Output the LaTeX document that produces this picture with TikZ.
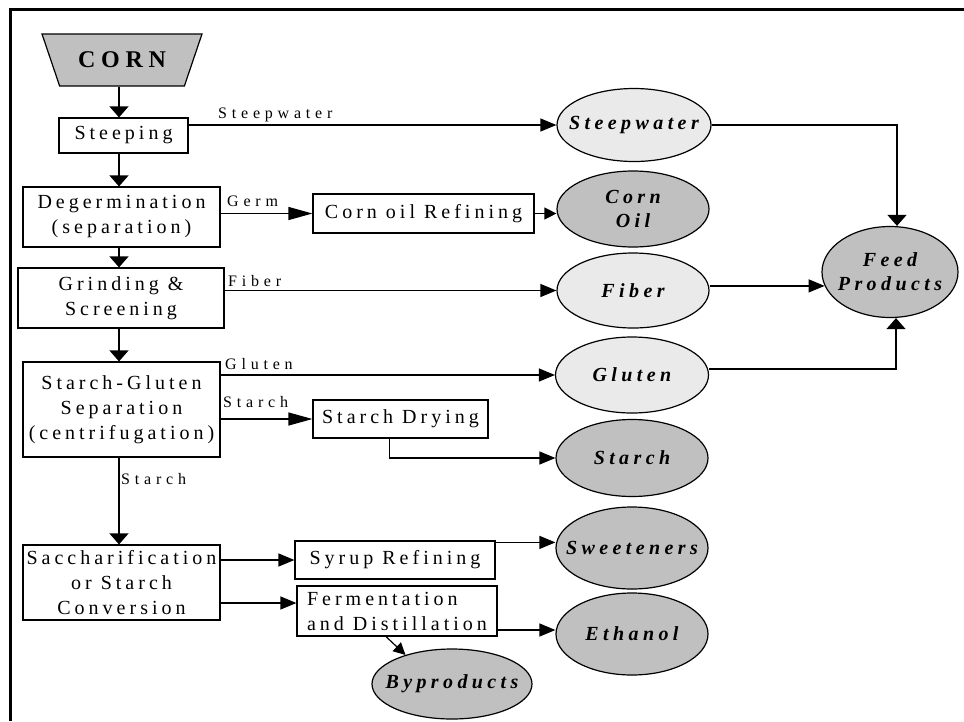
\documentclass[tikz,border=0pt]{standalone}
\usepackage{fontspec}
\setmainfont{Liberation Serif}
\newfontfamily\bxfont[LetterSpace=20]{Liberation Serif}
\newfontfamily\lbfont[LetterSpace=30]{Liberation Serif}
\newfontfamily\elfont[LetterSpace=22]{Liberation Serif}
\newfontfamily\cornfont[LetterSpace=24]{Liberation Serif}
\usetikzlibrary{arrows.meta,shapes.geometric}
\definecolor{darkg}{RGB}{192,192,192}
\definecolor{lightg}{RGB}{234,234,234}
\begin{document}
\begin{tikzpicture}[x=1pt,y=-1pt,
  box/.style={draw, line width=1.2pt, inner sep=0pt, align=center,
    font=\bxfont\fontsize{20}{25}\selectfont},
  ell/.style={ellipse, draw, line width=1.2pt, inner sep=0pt},
  eltext/.style={align=center, inner sep=0pt,
    font=\elfont\bfseries\itshape\fontsize{20}{24}\selectfont},
  lbl/.style={anchor=base west, inner sep=0pt, font=\lbfont\fontsize{16}{18}\selectfont},
  conn/.style={line width=1.2pt},
  arr/.style={conn, -{Triangle[length=16pt,width=13pt]}},
  larr/.style={conn, -{Triangle[length=24pt,width=13pt]}},
  sarr/.style={conn, -{Triangle[length=12pt,width=12pt]}},
  varr/.style={conn, -{Triangle[length=11pt,width=19pt]}}
]
\useasboundingbox (0,0) rectangle (964,721);
\draw[line width=3.5pt] (964,9.5) -- (10.5,9.5) -- (10.5,721);

\coordinate (spine) at (119,0);

% CORN
\node[trapezium, trapezium left angle=52.4, trapezium right angle=52.4,
  shape border rotate=180, trapezium stretches=true,
  minimum width=160pt, minimum height=52pt, fill=darkg, draw, line width=1.2pt,
  inner sep=0pt, font=\cornfont\bfseries\fontsize{24}{24}\selectfont] (corn) at (122,60) {CORN};

% process boxes
\node[box, minimum width=129pt, minimum height=35pt] (steep) at (123.5,135.5) {Steeping};
\node[box, minimum width=197pt, minimum height=60pt] (degerm) at (121.5,217) {Degermination\\(separation)};
\node[box, minimum width=206pt, minimum height=60pt] (grind) at (121,298) {Grinding \&\\Screening};
\node[box, minimum width=197pt, minimum height=95pt] (sg) at (121.5,409.5) {Starch-Gluten\\Separation\\(centrifugation)};
\node[box, minimum width=197pt, minimum height=75pt] (sacch) at (121.5,582.5) {Saccharification\\or Starch\\Conversion};
\node[box, minimum width=221pt, minimum height=39pt] (oilref) at (423.5,213.5) {Corn oil Refining};
\node[box, minimum width=175pt, minimum height=38pt] (sdry) at (400.5,419) {Starch Drying};
\node[box, minimum width=200pt, minimum height=38pt] (syrup) at (395,560) {Syrup Refining};
\node[box, minimum width=200pt, minimum height=50pt, align=left] (ferm) at (397,611) {Fermentation\\and Distillation};

% product ellipses
\node[ell, fill=lightg, minimum width=154pt, minimum height=73pt, label={[eltext]center:Steepwater}] (esteep) at (634,125) {};
\node[ell, fill=darkg, minimum width=152pt, minimum height=76pt, label={[eltext]center:{Corn\\Oil}}] (eoil) at (633,209) {};
\node[ell, fill=lightg, minimum width=152pt, minimum height=75pt, label={[eltext]center:Fiber}] (efiber) at (633,290.5) {};
\node[ell, fill=lightg, minimum width=153pt, minimum height=76pt, label={[eltext]center:Gluten}] (egluten) at (632,375) {};
\node[ell, fill=darkg, minimum width=152pt, minimum height=77pt, label={[eltext]center:Starch}] (estarch) at (632,458) {};
\node[ell, fill=darkg, minimum width=152pt, minimum height=82pt, label={[eltext]center:Sweeteners}] (esweet) at (632,548) {};
\node[ell, fill=darkg, minimum width=152pt, minimum height=82pt, label={[eltext]center:Ethanol}] (eeth) at (632,634) {};
\node[ell, fill=darkg, minimum width=160pt, minimum height=70pt, label={[eltext]center:Byproducts}] (ebyp) at (452,684) {};
\node[ell, fill=darkg, minimum width=136pt, minimum height=91pt, label={[eltext]center:{Feed\\Products}}] (efeed) at (890,272) {};

% main spine
\draw[varr] (corn.south -| spine) -- (steep.north -| spine);
\draw[varr] (steep.south -| spine) -- (degerm.north -| spine);
\draw[varr] (degerm.south -| spine) -- (grind.north -| spine);
\draw[varr] (grind.south -| spine) -- (sg.north -| spine);
\draw[varr] (sg.south -| spine) -- (sacch.north -| spine);
\node[lbl] (lstarch2) at (121,484) {Starch};

% steepwater
\draw[arr] (steep.east |- esteep.west) -- (esteep.west);
\node[lbl] (lsteep) at (218,118) {Steepwater};
\draw[varr] (esteep.east) -| ([xshift=7pt]efeed.north);

% germ
\draw[larr] (degerm.east |- oilref.west) -- (oilref.west);
\node[lbl] (lgerm) at (227,206) {Germ};
\draw[sarr] (oilref.east) -- (oilref.east -| eoil.west);

% fiber
\draw[arr] (grind.east |- efiber.west) -- (efiber.west);
\node[lbl] (lfiber) at (228,286) {Fiber};
\draw[arr] (efiber.east |- efeed.192) -- (efeed.192);

% gluten
\draw[arr] (sg.east |- egluten.west) -- (egluten.west);
\node[lbl] (lgluten) at (225,369) {Gluten};
\draw[varr] ([yshift=6pt]egluten.east) -| ([xshift=6pt]efeed.south);

% starch
\draw[larr] (sg.east |- sdry.west) -- (sdry.west);
\node[lbl] (lstarch1) at (223,407) {Starch};
\draw[arr] ([xshift=77pt]sdry.south west) |- (estarch.west);

% conversion
\draw[arr] (sacch.east |- syrup.west) -- (syrup.west);
\coordinate (fermin) at ([yshift=8pt]ferm.west);
\draw[arr] (sacch.east |- fermin) -- (fermin);
\coordinate (syout) at ([yshift=-2pt]syrup.north east);
\draw[arr] (syout) -- (syout -| esweet.west);
\coordinate (ethin) at ([yshift=4pt]eeth.west);
\draw[arr] (ferm.east |- ethin) -- (ethin);
\draw[sarr] ([xshift=-11pt]ferm.south) -- (ebyp.148);
\end{tikzpicture}
\end{document}
